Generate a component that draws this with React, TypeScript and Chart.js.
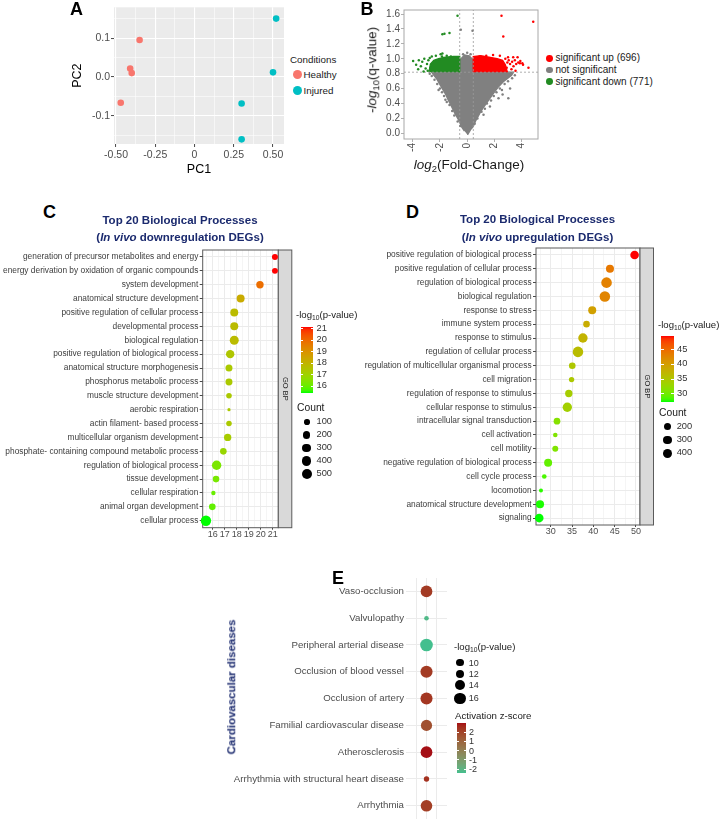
import React, { useEffect, useRef } from 'react';
import { Chart, registerables } from 'chart.js';

Chart.register(...registerables);

const FONT = "'Liberation Sans', Arial, Helvetica, sans-serif";
Chart.defaults.font.family = FONT;
const NAVY = '#1B2A6E';

// ---------------- Panel A : PCA ----------------
const pcaHealthyPC1 = [-0.35, -0.41, -0.40, -0.47];
const pcaHealthyPC2 = [0.095, 0.022, 0.010, -0.066];
const pcaInjuredPC1 = [0.52, 0.50, 0.30, 0.30];
const pcaInjuredPC2 = [0.150, 0.012, -0.068, -0.160];
const pcaXTicks = [-0.5, -0.25, 0, 0.25, 0.5];
const pcaXTickLabels = ['-0.50', '-0.25', '0', '0.25', '0.50'];
const pcaYTicks = [-0.1, 0, 0.1];
const pcaYTickLabels = ['-0.1', '0.0', '0.1'];
const pcaConditions = ['Healthy', 'Injured'];
const pcaColors = ['#F8766D', '#00BFC4'];
const A_X = [-0.513, 0.57];
const A_Y = [-0.172, 0.179];

// ---------------- Panel B : volcano ----------------
const volcanoXTicks = [-4, -2, 0, 2, 4];
const volcanoXTickLabels = ['-4', '-2', '0', '2', '4'];
const volcanoYTicks = [0, 0.2, 0.4, 0.6, 0.8, 1.0, 1.2, 1.4, 1.6];
const volcanoYTickLabels = ['0.0', '0.2', '0.4', '0.6', '0.8', '1.0', '1.2', '1.4', '1.6'];
const B_X = [-4.64, 5.2];
const B_Y = [-0.076, 1.654];
const volcanoFcCuts = [-0.55, 0.45];
const volcanoQCut = 0.82;
const volcanoLegend = ['significant up (696)', 'not significant', 'significant down (771)'];
const volcanoColors = ['#FF0000', '#808080', '#228B22'];
// dense point-cloud envelopes
const volcanoGrayEnvelope = [[0.02, -0.02], [0.25, 0.05], [0.44, 0.09], [0.6, 0.16], [0.93, 0.27], [1.2, 0.35], [1.59, 0.45], [1.9, 0.53], [2.28, 0.62], [2.7, 0.7], [3.26, 0.78], [3.4, 0.82], [0.45, 0.82], [0.45, 0.98], [0.15, 1.04], [-0.2, 1.05], [-0.55, 0.98], [-0.55, 0.82], [-2.6, 0.82], [-2.5, 0.79], [-2.2, 0.72], [-1.89, 0.62], [-1.6, 0.53], [-1.4, 0.45], [-1.15, 0.36], [-0.91, 0.27], [-0.6, 0.17], [-0.42, 0.09], [-0.2, 0.03]];
const volcanoDownEnvelope = [[-0.55, 0.82], [-0.55, 1.03], [-1.0, 1.03], [-1.6, 1.02], [-2.1, 1.0], [-2.45, 0.98], [-2.7, 0.93], [-2.8, 0.82]];
const volcanoUpEnvelope = [[0.45, 0.82], [0.45, 1.03], [1.0, 1.04], [1.6, 1.02], [2.2, 1.0], [2.6, 0.98], [2.8, 0.92], [2.95, 0.82]];
const volcanoGrayPoints = [[0.55, 0.13], [0.75, 0.2], [1.05, 0.29], [1.2, 0.25], [1.3, 0.33], [1.45, 0.4], [1.67, 0.36], [1.75, 0.44], [1.95, 0.5], [2.15, 0.55], [2.3, 0.47], [2.4, 0.6], [2.6, 0.52], [2.55, 0.58], [2.75, 0.66], [3.02, 0.47], [3.15, 0.6], [3.0, 0.7], [3.3, 0.74], [3.5, 0.78], [-0.5, 0.1], [-0.7, 0.16], [-0.95, 0.24], [-1.1, 0.3], [-1.3, 0.38], [-1.5, 0.42], [-1.6, 0.45], [-1.7, 0.5], [-1.85, 0.55], [-2.0, 0.6], [-2.1, 0.58], [-2.2, 0.66], [-2.4, 0.72], [-2.6, 0.77], [-2.75, 0.8], [0.0, 1.08], [-0.3, 1.06], [0.25, 1.06], [-0.47, 1.39], [0.39, 1.375]];
const volcanoDownPoints = [[-3.97, 0.97], [-3.75, 0.92], [-3.6, 0.86], [-3.55, 0.98], [-3.4, 0.9], [-3.3, 0.96], [-3.2, 0.83], [-3.15, 1.0], [-3.05, 0.87], [-2.95, 0.93], [-2.9, 0.84], [-2.85, 0.98], [-2.75, 1.01], [-2.7, 0.88], [-2.6, 1.03], [-2.3, 1.04], [-2.05, 0.99], [-1.95, 1.06], [-1.85, 1.03], [-1.82, 1.07], [-1.5, 1.04], [-1.2, 1.03], [-0.71, 1.577], [-1.82, 1.33], [-1.67, 1.335], [-1.3, 1.345]];
const volcanoUpPoints = [[0.9, 1.03], [1.4, 1.04], [1.9, 1.05], [2.4, 1.04], [2.8, 1.0], [2.9, 0.88], [2.95, 0.95], [3.0, 1.02], [3.05, 0.98], [3.15, 0.93], [3.25, 0.86], [3.3, 0.96], [3.38, 1.02], [3.4, 0.9], [3.5, 0.98], [3.55, 0.84], [3.6, 0.93], [3.7, 1.02], [3.75, 0.95], [3.87, 0.94], [3.9, 0.97], [4.05, 0.94], [4.1, 0.92], [4.5, 0.88], [2.52, 1.577], [4.85, 1.497], [2.65, 1.30]];

// ---------------- Panel C : downregulated GO BP ----------------
const cTerms = [
  'generation of precursor metabolites and energy',
  'energy derivation by oxidation of organic compounds',
  'system development',
  'anatomical structure development',
  'positive regulation of cellular process',
  'developmental process',
  'biological regulation',
  'positive regulation of biological process',
  'anatomical structure morphogenesis',
  'phosphorus metabolic process',
  'muscle structure development',
  'aerobic respiration',
  'actin filament- based process',
  'multicellular organism development',
  'phosphate- containing compound metabolic process',
  'regulation of biological process',
  'tissue development',
  'cellular respiration',
  'animal organ development',
  'cellular process',
];
const cLogP = [21.19, 21.19, 19.94, 18.33, 17.8, 17.8, 17.8, 17.46, 17.36, 17.36, 17.36, 17.36, 17.36, 17.25, 16.89, 16.33, 16.28, 16.06, 15.97, 15.44];
const cCount = [117, 112, 210, 261, 258, 262, 361, 298, 180, 178, 97, 43, 95, 205, 152, 406, 150, 57, 155, 533];
const cXTicks = [16, 17, 18, 19, 20, 21];
const cXTickLabels = ['16', '17', '18', '19', '20', '21'];
const C_X = [15.17, 21.47];
const cColorTicks = [16, 17, 18, 19, 20, 21];
const cCountLegend = [100, 200, 300, 400, 500];

// ---------------- Panel D : upregulated GO BP ----------------
const dTerms = [
  'positive regulation of biological process',
  'positive regulation of cellular process',
  'regulation of biological process',
  'biological regulation',
  'response to stress',
  'immune system process',
  'response to stimulus',
  'regulation of cellular process',
  'regulation of multicellular organismal process',
  'cell migration',
  'regulation of response to stimulus',
  'cellular response to stimulus',
  'intracellular signal transduction',
  'cell activation',
  'cell motility',
  'negative regulation of biological process',
  'cell cycle process',
  'locomotion',
  'anatomical structure development',
  'signaling',
];
const dLogP = [49.67, 43.9, 43.1, 42.7, 39.74, 38.4, 37.56, 36.4, 35.06, 34.9, 34.25, 33.9, 31.48, 31.08, 31.08, 29.4, 28.5, 27.73, 27.5, 27.32];
const dCount = [318, 263, 560, 555, 265, 163, 405, 548, 165, 111, 215, 400, 168, 94, 133, 262, 95, 90, 268, 320];
const dXTicks = [30, 35, 40, 45, 50];
const dXTickLabels = ['30', '35', '40', '45', '50'];
const D_X = [26.56, 50.94];
const dColorTicks = [30, 35, 40, 45];
const dCountLegend = [200, 300, 400];

// ---------------- Panel E : cardiovascular diseases ----------------
const eDiseases = [
  'Vaso-occlusion',
  'Valvulopathy',
  'Peripheral arterial disease',
  'Occlusion of blood vessel',
  'Occlusion of artery',
  'Familial cardiovascular disease',
  'Atherosclerosis',
  'Arrhythmia with structural heart disease',
  'Arrhythmia',
];
const eLogP = [17.4, 8.8, 19.7, 18.5, 18.3, 16.2, 17.5, 8.9, 17.2];
const eZ = [2.2, -2.24, -2.45, 2.2, 2.3, 1.6, 2.95, 2.4, 2.1];
const eLogPLegend = [10, 12, 14, 16];
const eZTicks = [2, 1, 0, -1, -2];
const eXGrid = [-1, 0, 1];

// ---------------- helpers ----------------
function hexToRgb(hex: string) {
  const n = parseInt(hex.slice(1), 16);
  return [(n >> 16) & 255, (n >> 8) & 255, n & 255];
}
function toLab(rgb: number[]) {
  const lin = rgb.map((v) => {
    v /= 255;
    return v <= 0.04045 ? v / 12.92 : Math.pow((v + 0.055) / 1.055, 2.4);
  });
  const X = (lin[0] * 0.4124564 + lin[1] * 0.3575761 + lin[2] * 0.1804375) / 0.95047;
  const Y = lin[0] * 0.2126729 + lin[1] * 0.7151522 + lin[2] * 0.072175;
  const Z = (lin[0] * 0.0193339 + lin[1] * 0.119192 + lin[2] * 0.9503041) / 1.08883;
  const f = (t: number) => (t > 216 / 24389 ? Math.cbrt(t) : ((24389 / 27) * t + 16) / 116);
  const fx = f(X), fy = f(Y), fz = f(Z);
  return [116 * fy - 16, 500 * (fx - fy), 200 * (fy - fz)];
}
function fromLab(lab: number[]) {
  const [L, a, b] = lab;
  const fy = (L + 16) / 116, fx = fy + a / 500, fz = fy - b / 200;
  const inv = (t: number) => (t * t * t > 216 / 24389 ? t * t * t : (116 * t - 16) / (24389 / 27));
  const X = inv(fx) * 0.95047, Y = inv(fy), Z = inv(fz) * 1.08883;
  const r = X * 3.2404542 - Y * 1.5371385 - Z * 0.4985314;
  const g = -X * 0.969266 + Y * 1.8760108 + Z * 0.041556;
  const bb = X * 0.0556434 - Y * 0.2040259 + Z * 1.0572252;
  const gam = (v: number) => {
    v = Math.min(1, Math.max(0, v));
    return Math.round(255 * (v <= 0.0031308 ? 12.92 * v : 1.055 * Math.pow(v, 1 / 2.4) - 0.055));
  };
  return `rgb(${gam(r)},${gam(g)},${gam(bb)})`;
}
function gradientScale(low: string, high: string, min: number, max: number) {
  const A = toLab(hexToRgb(low)), B = toLab(hexToRgb(high));
  return (v: number) => {
    const t = Math.min(1, Math.max(0, (v - min) / (max - min)));
    return fromLab(A.map((x, i) => x + (B[i] - x) * t));
  };
}
function sizeScale(vals: number[], rMin: number, rMax: number) {
  const lo = Math.min(...vals), hi = Math.max(...vals);
  return (v: number) => rMin + (rMax - rMin) * Math.sqrt(Math.max(0, (v - lo) / (hi - lo)));
}
function gridValues(majors: number[], min: number, max: number, minor: boolean) {
  const out = [...majors];
  if (minor) {
    const step = majors[1] - majors[0];
    for (let i = -1; i < majors.length; i++) {
      const m = (i < 0 ? majors[0] : majors[i]) + (i < 0 ? -step / 2 : step / 2);
      if (m >= min && m <= max) out.push(m);
    }
  }
  return out.sort((a, b) => a - b);
}
const near = (a: number, b: number) => Math.abs(a - b) < 1e-9;

function mmAxis(majors: number[], labels: string[], range: number[], o: any) {
  const vals = gridValues(majors, range[0], range[1], !o.noMinor);
  const isMajor = (v: number) => majors.some((m) => near(m, v));
  return {
    type: 'linear',
    min: range[0],
    max: range[1],
    afterBuildTicks: (s: any) => {
      s.ticks = vals.map((v) => ({ value: v }));
    },
    ticks: {
      autoSkip: false,
      maxRotation: o.rot || 0,
      minRotation: o.rot || 0,
      padding: o.pad,
      color: o.tickText,
      font: { size: o.font, lineHeight: o.lh || 1.2 },
      callback: (v: number) => {
        const i = majors.findIndex((m) => near(m, v));
        return i >= 0 ? labels[i] : '';
      },
    },
    grid: {
      drawOnChartArea: o.gridOn,
      color: o.gridColor,
      lineWidth: (c: any) => (c.tick && isMajor(c.tick.value) ? o.majorW : o.minorW),
      tickLength: o.tl,
      tickWidth: 0.9,
      tickColor: (c: any) => (c.tick && isMajor(c.tick.value) ? o.tickColor : 'rgba(0,0,0,0)'),
    },
    border: { display: false },
    afterFit: o.fit,
    title: o.title || { display: false },
  };
}

const decorPlugin: any = {
  id: 'decor',
  beforeDraw(chart: any, _a: any, o: any) {
    if (!o || !o.bg) return;
    const { ctx, chartArea: a } = chart;
    ctx.save();
    ctx.fillStyle = o.bg;
    ctx.fillRect(a.left, a.top, a.right - a.left, a.bottom - a.top);
    ctx.restore();
  },
  beforeDatasetsDraw(chart: any, _a: any, o: any) {
    if (!o) return;
    const { ctx, chartArea: a } = chart;
    if (o.frame) {
      ctx.save();
      ctx.strokeStyle = o.frame;
      ctx.lineWidth = 1;
      ctx.strokeRect(a.left, a.top, a.right - a.left, a.bottom - a.top);
      ctx.restore();
    }
    if (o.stripText) {
      const w = o.stripWidth;
      ctx.save();
      ctx.fillStyle = '#D9D9D9';
      ctx.fillRect(a.right, a.top, w, a.bottom - a.top);
      ctx.strokeStyle = o.frame;
      ctx.lineWidth = 1;
      ctx.strokeRect(a.right, a.top, w, a.bottom - a.top);
      ctx.translate(a.right + w / 2, (a.top + a.bottom) / 2);
      ctx.rotate(Math.PI / 2);
      ctx.fillStyle = '#1A1A1A';
      ctx.font = `7.5px ${FONT}`;
      ctx.textAlign = 'center';
      ctx.textBaseline = 'middle';
      ctx.fillText(o.stripText, 0, 0);
      ctx.restore();
    }
  },
};

const baseOptions = (padding: any, decor: any) => ({
  responsive: false,
  animation: false,
  events: [],
  layout: { padding },
  plugins: { legend: { display: false }, tooltip: { enabled: false }, decor },
});

// ---------- scales for colour / size ----------
const cColor = gradientScale('#00FF00', '#FF0000', Math.min(...cLogP), Math.max(...cLogP));
const cSize = sizeScale(cCount, 1.6, 5.2);
const dColor = gradientScale('#00FF00', '#FF0000', Math.min(...dLogP), Math.max(...dLogP));
const dSize = sizeScale(dCount, 2.0, 5.3);
const eColor = gradientScale('#43BF8E', '#A50F15', Math.min(...eZ), Math.max(...eZ));
const eSize = sizeScale(eLogP, 2.3, 6.3);

// ---------- configs ----------
const configA = () => ({
  type: 'scatter',
  data: {
    datasets: [
      { data: pcaHealthyPC1.map((v, i) => ({ x: v, y: pcaHealthyPC2[i] })), pointRadius: 3.3, pointBackgroundColor: pcaColors[0], pointBorderWidth: 0, clip: false },
      { data: pcaInjuredPC1.map((v, i) => ({ x: v, y: pcaInjuredPC2[i] })), pointRadius: 3.3, pointBackgroundColor: pcaColors[1], pointBorderWidth: 0, clip: false },
    ],
  },
  options: {
    ...baseOptions({ top: 3, right: 6, bottom: 0, left: 0 }, { bg: '#EBEBEB' }),
    scales: {
      x: mmAxis(pcaXTicks, pcaXTickLabels, A_X, {
        pad: 2, font: 10.5, tickText: '#4D4D4D', gridOn: true, gridColor: '#FFFFFF', majorW: 1.1, minorW: 0.55, tl: 3, tickColor: '#333333',
        fit: (s: any) => { s.height = 36; },
        title: { display: true, text: 'PC1', color: '#000', font: { size: 12.5 }, padding: { top: 0, bottom: 2.5 } },
      }),
      y: mmAxis(pcaYTicks, pcaYTickLabels, A_Y, {
        pad: 1, font: 10.5, tickText: '#4D4D4D', gridOn: true, gridColor: '#FFFFFF', majorW: 1.1, minorW: 0.55, tl: 3, tickColor: '#333333',
        fit: (s: any) => { s.width = 49; },
        title: { display: true, text: 'PC2', color: '#000', font: { size: 12.5 }, padding: { top: 5.5, bottom: 0 } },
      }),
    },
  },
  plugins: [decorPlugin],
});

const toXY = (arr: number[][]) => arr.map((p) => ({ x: p[0], y: p[1] }));
const polygon = (arr: number[][], color: string, order: number) => ({
  type: 'line', data: toXY(arr), fill: 'shape', backgroundColor: color, borderColor: color, borderWidth: 1.4, pointRadius: 0, tension: 0, order, clip: false,
});
const cloud = (arr: number[][], color: string, order: number) => ({
  type: 'scatter', data: toXY(arr), pointRadius: 1.25, pointBackgroundColor: color, pointBorderWidth: 0, order, clip: false,
});
const guide = (pts: number[][]) => ({
  type: 'line', data: toXY(pts), borderColor: '#9A9A9A', borderWidth: 0.8, borderDash: [2, 2], pointRadius: 0, fill: false, order: 2.5,
});

const configB = () => ({
  type: 'scatter',
  data: {
    datasets: [
      cloud(volcanoUpPoints, volcanoColors[0], 0),
      cloud(volcanoDownPoints, volcanoColors[2], 1),
      cloud(volcanoGrayPoints, volcanoColors[1], 2),
      guide([[volcanoFcCuts[0], B_Y[0]], [volcanoFcCuts[0], B_Y[1]]]),
      guide([[volcanoFcCuts[1], B_Y[0]], [volcanoFcCuts[1], B_Y[1]]]),
      guide([[B_X[0], volcanoQCut], [B_X[1], volcanoQCut]]),
      polygon(volcanoUpEnvelope, volcanoColors[0], 3),
      polygon(volcanoDownEnvelope, volcanoColors[2], 4),
      polygon(volcanoGrayEnvelope, volcanoColors[1], 5),
    ],
  },
  options: {
    ...baseOptions({ top: 10, right: 7, bottom: 0, left: 0 }, { frame: '#A8A8A8' }),
    scales: {
      x: mmAxis(volcanoXTicks, volcanoXTickLabels, B_X, {
        noMinor: true, rot: 90, pad: 1, font: 10, tickText: '#4D4D4D', gridOn: false, gridColor: '#A8A8A8', majorW: 1, minorW: 1, tl: 3, tickColor: '#A8A8A8',
        fit: (s: any) => { s.height = 21; },
      }),
      y: mmAxis(volcanoYTicks, volcanoYTickLabels, B_Y, {
        noMinor: true, pad: 1, font: 10, tickText: '#4D4D4D', gridOn: false, gridColor: '#A8A8A8', majorW: 1, minorW: 1, tl: 3, tickColor: '#A8A8A8',
        fit: (s: any) => { s.width = 64; },
      }),
    },
  },
  plugins: [decorPlugin],
});

function goConfig(terms: string[], logp: number[], count: number[], color: any, size: any, majors: number[], labels: string[], range: number[], pad: any, yWidth: number, xHeight: number) {
  return () => ({
    type: 'scatter',
    data: {
      datasets: [
        {
          data: terms.map((t, i) => ({ x: logp[i], y: t })),
          pointRadius: (c: any) => size(count[c.dataIndex]),
          pointBackgroundColor: (c: any) => color(logp[c.dataIndex]),
          pointBorderWidth: 0,
          clip: false,
        },
      ],
    },
    options: {
      ...baseOptions(pad, { frame: '#5A5A5A', stripText: 'GO BP', stripWidth: 13.5 }),
      scales: {
        x: mmAxis(majors, labels, range, {
          pad: 0.5, font: 9, lh: 1, tickText: '#4D4D4D', gridOn: true, gridColor: '#EBEBEB', majorW: 1, minorW: 0.5, tl: 2, tickColor: '#333333',
          fit: (s: any) => { s.height = xHeight; },
        }),
        y: {
          type: 'category',
          labels: terms,
          offset: true,
          grid: { offset: false, color: '#EBEBEB', lineWidth: 1, tickLength: 3, tickColor: '#333333', tickWidth: 0.9 },
          border: { display: false },
          ticks: { autoSkip: false, font: { size: 8.35 }, color: '#3D3D3D', padding: 1.4 },
          afterFit: (s: any) => { s.width = yWidth; },
        },
      },
    },
    plugins: [decorPlugin],
  });
}

const configC = goConfig(cTerms, cLogP, cCount, cColor, cSize, cXTicks, cXTickLabels, C_X, { top: 10, right: 21.7, bottom: 0, left: 0 }, 202.7, 17.3);
const configD = goConfig(dTerms, dLogP, dCount, dColor, dSize, dXTicks, dXTickLabels, D_X, { top: 10, right: 20, bottom: 0, left: 0 }, 196, 18);

const configE = () => ({
  type: 'scatter',
  data: {
    datasets: [
      {
        data: eDiseases.map((d) => ({ x: 0, y: d })),
        pointRadius: (c: any) => eSize(eLogP[c.dataIndex]),
        pointBackgroundColor: (c: any) => eColor(eZ[c.dataIndex]),
        pointBorderWidth: 0,
        clip: false,
      },
    ],
  },
  options: {
    ...baseOptions({ top: 8, right: 8, bottom: 3, left: 0 }, {}),
    scales: {
      x: {
        type: 'linear', min: -2, max: 2,
        afterBuildTicks: (s: any) => { s.ticks = eXGrid.map((v) => ({ value: v })); },
        ticks: { display: false },
        grid: { color: '#EBEBEB', lineWidth: 1, drawTicks: false },
        border: { display: false },
        afterFit: (s: any) => { s.height = 0; },
      },
      y: {
        type: 'category',
        labels: eDiseases,
        offset: true,
        grid: { offset: false, color: '#EBEBEB', lineWidth: 1, drawTicks: false },
        border: { display: false },
        ticks: { autoSkip: false, font: { size: 9.7 }, color: '#4D4D4D', padding: 2 },
        afterFit: (s: any) => { s.width = 176; },
      },
    },
  },
  plugins: [decorPlugin],
});

// ---------------- React pieces ----------------
function ChartCanvas({ x, y, w, h, config }: { x: number; y: number; w: number; h: number; config: () => any }) {
  const ref = useRef<HTMLCanvasElement | null>(null);
  useEffect(() => {
    if (!ref.current) return;
    const chart = new Chart(ref.current, config());
    return () => chart.destroy();
  }, []);
  return <canvas ref={ref} width={w} height={h} style={{ position: 'absolute', left: x, top: y, width: w, height: h }} />;
}

function Txt({ x, y, children, size = 10, bold = false, color = '#1A1A1A', anchor = 'left', rotate = 0, italic = false, lh = 1 }: any) {
  const tx = anchor === 'center' ? '-50%' : anchor === 'right' ? '-100%' : '0';
  return (
    <div
      style={{
        position: 'absolute', left: x, top: y,
        transform: `translate(${tx},-50%)${rotate ? ` rotate(${rotate}deg)` : ''}`,
        fontSize: size, fontWeight: bold ? 700 : 400, fontStyle: italic ? 'italic' : 'normal',
        color, whiteSpace: 'nowrap', lineHeight: lh, fontFamily: FONT, textAlign: 'center',
      }}
    >
      {children}
    </div>
  );
}

const Sub = ({ children }: any) => <sub style={{ fontSize: '0.7em', verticalAlign: '-0.3em', lineHeight: 0 }}>{children}</sub>;

function Dot({ cx, cy, r, color }: any) {
  return <div style={{ position: 'absolute', left: cx - r, top: cy - r, width: 2 * r, height: 2 * r, borderRadius: '50%', background: color }} />;
}

function ColorBar({ x, y, w, h, scale, min, max, ticks, labelX, size = 9.3 }: any) {
  const stops = Array.from({ length: 24 }, (_, i) => scale(min + ((max - min) * i) / 23));
  const py = (v: number) => y + ((max - v) / (max - min)) * h;
  return (
    <>
      <div style={{ position: 'absolute', left: x, top: y, width: w, height: h, background: `linear-gradient(to top, ${stops.join(',')})` }} />
      {ticks.map((t: number) => (
        <React.Fragment key={t}>
          <div style={{ position: 'absolute', left: x, top: py(t) - 0.5, width: w * 0.2, height: 1, background: '#fff' }} />
          <div style={{ position: 'absolute', left: x + w * 0.8, top: py(t) - 0.5, width: w * 0.2, height: 1, background: '#fff' }} />
          <Txt x={labelX} y={py(t)} size={size} color="#333">{String(t)}</Txt>
        </React.Fragment>
      ))}
    </>
  );
}

export default function App() {
  const cMin = Math.min(...cLogP), cMax = Math.max(...cLogP);
  const dMin = Math.min(...dLogP), dMax = Math.max(...dLogP);
  const eMin = Math.min(...eZ), eMax = Math.max(...eZ);
  const cCountY = [421.7, 435, 448.3, 461, 474.3];
  const dCountY = [426.7, 440, 453.3];
  const eSizeY = [662.7, 674, 685.3, 698.3];
  return (
    <div style={{ position: 'absolute', left: 0, top: 0, width: 720, height: 827, background: '#fff', overflow: 'hidden', fontFamily: FONT }}>
      <ChartCanvas x={65} y={0} w={225} h={180} config={configA} />
      <ChartCanvas x={340} y={0} w={205} h={160} config={configB} />
      <ChartCanvas x={0} y={240} w={300} h={305} config={configC} />
      <ChartCanvas x={340} y={238} w={320} h={305} config={configD} />
      <ChartCanvas x={230} y={570} w={225} h={257} config={configE} />

      {/* panel letters */}
      <Txt x={70} y={9} size={18} bold color="#000">A</Txt>
      <Txt x={360.5} y={9} size={18} bold color="#000">B</Txt>
      <Txt x={43} y={211.5} size={18} bold color="#000">C</Txt>
      <Txt x={406} y={212} size={18} bold color="#000">D</Txt>
      <Txt x={332} y={578} size={18} bold color="#000">E</Txt>

      {/* A legend */}
      <Txt x={290} y={60} size={9.8}>Conditions</Txt>
      {pcaConditions.map((c, i) => (
        <React.Fragment key={c}>
          <Dot cx={297.7} cy={74.7 + i * 16} r={4.6} color={pcaColors[i]} />
          <Txt x={303.5} y={75 + i * 16} size={9.8}>{c}</Txt>
        </React.Fragment>
      ))}

      {/* B axis titles and legend */}
      <Txt x={372} y={70} size={13.5} anchor="center" rotate={-90}>
        <i>-log</i><Sub>10</Sub>(q-value)
      </Txt>
      <Txt x={469} y={165} size={13.5} anchor="center">
        <i>log</i><Sub>2</Sub>(Fold-Change)
      </Txt>
      {volcanoLegend.map((t, i) => (
        <React.Fragment key={t}>
          <Dot cx={549.3} cy={58.3 + i * 11.7} r={3.4} color={volcanoColors[i]} />
          <Txt x={555.5} y={58.3 + i * 11.7} size={10}>{t}</Txt>
        </React.Fragment>
      ))}

      {/* C title + legends */}
      <Txt x={180} y={229} size={11.5} bold color={NAVY} anchor="center" lh="16.6px">
        Top 20 Biological Processes<br />(<i>In vivo</i> downregulation DEGs)
      </Txt>
      <Txt x={296} y={315} size={9.6}>-log<Sub>10</Sub>(p-value)</Txt>
      <ColorBar x={300.7} y={326.7} w={12.3} h={66} scale={cColor} min={cMin} max={cMax} ticks={cColorTicks} labelX={316.5} />
      <Txt x={297} y={408} size={10.3}>Count</Txt>
      {cCountLegend.map((c, i) => (
        <React.Fragment key={c}>
          <Dot cx={306.7} cy={cCountY[i]} r={cSize(c)} color="#000" />
          <Txt x={316.5} y={cCountY[i]} size={9.3} color="#333">{String(c)}</Txt>
        </React.Fragment>
      ))}

      {/* D title + legends */}
      <Txt x={537.5} y={227.5} size={11.5} bold color={NAVY} anchor="center" lh="18px">
        Top 20 Biological Processes<br />(<i>In vivo</i> upregulation DEGs)
      </Txt>
      <Txt x={658} y={325} size={9.6}>-log<Sub>10</Sub>(p-value)</Txt>
      <ColorBar x={661} y={336} w={13} h={65.7} scale={dColor} min={dMin} max={dMax} ticks={dColorTicks} labelX={677} />
      <Txt x={659} y={413} size={10.3}>Count</Txt>
      {dCountLegend.map((c, i) => (
        <React.Fragment key={c}>
          <Dot cx={667.7} cy={dCountY[i]} r={dSize(c)} color="#000" />
          <Txt x={676.7} y={dCountY[i]} size={9.3} color="#333">{String(c)}</Txt>
        </React.Fragment>
      ))}

      {/* E axis title + legends */}
      <Txt x={231.7} y={686.5} size={11.5} bold color={NAVY} anchor="center" rotate={-90}>Cardiovascular diseases</Txt>
      <Txt x={454} y={646.7} size={9.6}>-log<Sub>10</Sub>(p-value)</Txt>
      {eLogPLegend.map((p, i) => (
        <React.Fragment key={p}>
          <Dot cx={460} cy={eSizeY[i]} r={eSize(p)} color="#000" />
          <Txt x={468.7} y={eSizeY[i]} size={9} color="#333">{String(p)}</Txt>
        </React.Fragment>
      ))}
      <Txt x={455} y={715.7} size={9.7}>Activation z-score</Txt>
      <ColorBar x={456.7} y={723.3} w={9.3} h={50} scale={eColor} min={eMin} max={eMax} ticks={eZTicks} labelX={469} size={9} />
    </div>
  );
}
